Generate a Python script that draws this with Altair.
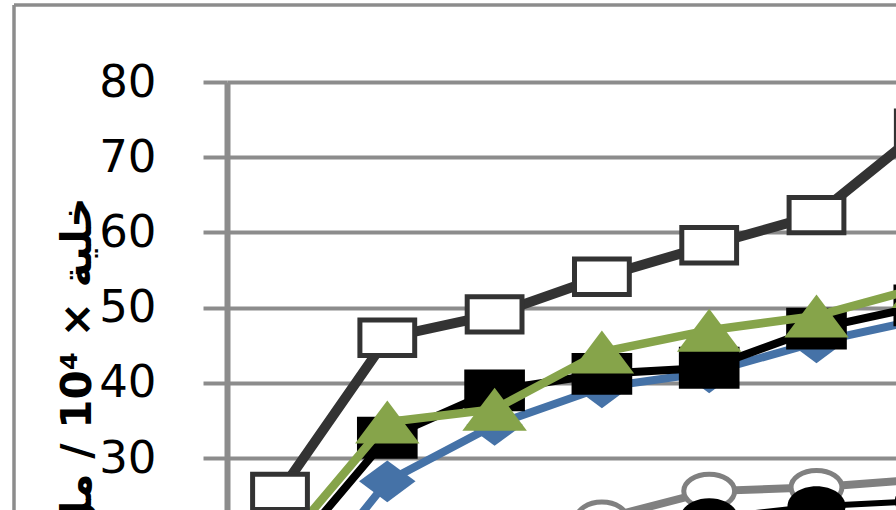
import altair as alt
import pandas as pd

# Sampling points (category index along the horizontal axis)
idx = [0, 1, 2, 3, 4, 5, 6]

# Cell counts per series
open_square = [25.5, 46.0, 49.1, 54.1, 58.3, 62.3, 73.8]
black_square = [15.8, 32.7, 39.0, 41.2, 42.0, 47.2, 50.3]
green_triangle = [17.9, 34.8, 36.5, 44.1, 47.0, 48.9, 52.8]
blue_diamond = [9.1, 26.9, 34.4, 39.4, 41.4, 45.4, 48.5]
gray_circle = [10.0, 14.0, 18.0, 21.9, 25.6, 26.1, 27.2]
black_circle = [8.0, 12.0, 16.0, 19.5, 22.0, 23.6, 24.3]

y_ticks = [30, 40, 50, 60, 70, 80]
y_title = "خلية × 10⁴ / مل"

PLOT_W, PLOT_H = 669, 428
GRID = "#8c8c8c"

x_enc = alt.X(
    "i:Q",
    scale=alt.Scale(domain=[-0.494, 5.741], nice=False, zero=False),
    axis=None,
)
y_enc = alt.Y(
    "v:Q",
    scale=alt.Scale(domain=[23.09, 80], nice=False, zero=False),
    axis=alt.Axis(
        values=y_ticks,
        title=y_title,
        titleFont="DejaVu Sans",
        titleFontWeight="bold",
        titleFontSize=42,
        titleColor="black",
        titleAngle=270,
        titleAlign="right",
        titleBaseline="middle",
        titleX=-150,
        titleY=115,
        labelFont="DejaVu Sans",
        labelFontSize=45,
        labelColor="black",
        labelPadding=47,
        grid=True,
        gridColor=GRID,
        gridWidth=4,
        tickColor=GRID,
        tickWidth=4,
        tickSize=24,
        domainColor=GRID,
        domainWidth=6,
    ),
)


def series(values, line_color, line_width, shape, size, fill, stroke=None, stroke_width=0):
    df = pd.DataFrame({"i": idx, "v": values})
    base = alt.Chart(df).encode(x=x_enc, y=y_enc)
    line = base.mark_line(color=line_color, strokeWidth=line_width, clip=True)
    point_kwargs = dict(
        shape=shape, size=size, fill=fill, fillOpacity=1, opacity=1, clip=True
    )
    if stroke is not None:
        point_kwargs.update(stroke=stroke, strokeWidth=stroke_width)
    else:
        point_kwargs.update(strokeWidth=0)
    points = base.mark_point(**point_kwargs)
    return [line, points]


RECT = lambda r: f"M-{r},-1L{r},-1L{r},1L-{r},1Z"
ELLIPSE = lambda r: f"M-{r},0A{r},1 0 1,0 {r},0A{r},1 0 1,0 -{r},0Z"
TRIANGLE = "M0,-1L1.5,1L-1.5,1Z"
DIAMOND = "M0,-1L1.35,0L0,1L-1.35,0Z"

# Outer chart frame (left and top edges)
frame_df = pd.DataFrame({"a": [0]})
frame_left = alt.Chart(frame_df).mark_rule(color=GRID, strokeWidth=3.5).encode(
    x=alt.value(-213), y=alt.value(-77), y2=alt.value(PLOT_H)
)
frame_top = alt.Chart(frame_df).mark_rule(color=GRID, strokeWidth=3.5).encode(
    x=alt.value(-213), x2=alt.value(PLOT_W), y=alt.value(-77)
)

layers = [frame_left, frame_top]
layers += series(gray_circle, "#808080", 8, ELLIPSE(1.5), 1150, "white", "#808080", 5)
layers += series(black_circle, "#000000", 6, ELLIPSE(1.45), 1600, "#000000")
layers += series(blue_diamond, "#4572a7", 8, DIAMOND, 1750, "#4572a7")
layers += series(black_square, "#000000", 8, RECT(1.45), 1750, "#000000")
layers += series(green_triangle, "#86a44a", 8.5, TRIANGLE, 1850, "#86a44a")
layers += series(open_square, "#333333", 10, RECT(1.55), 1250, "white", "#333333", 5)

chart = (
    alt.layer(*layers)
    .properties(
        width=PLOT_W,
        height=PLOT_H,
        padding={"left": 227, "top": 82, "right": 0, "bottom": 0},
        autosize=alt.AutoSizeParams(type="none"),
        background="white",
    )
    .configure_view(stroke=None)
)

chart.save("out.html", embed_options={"renderer": "svg", "actions": False})
